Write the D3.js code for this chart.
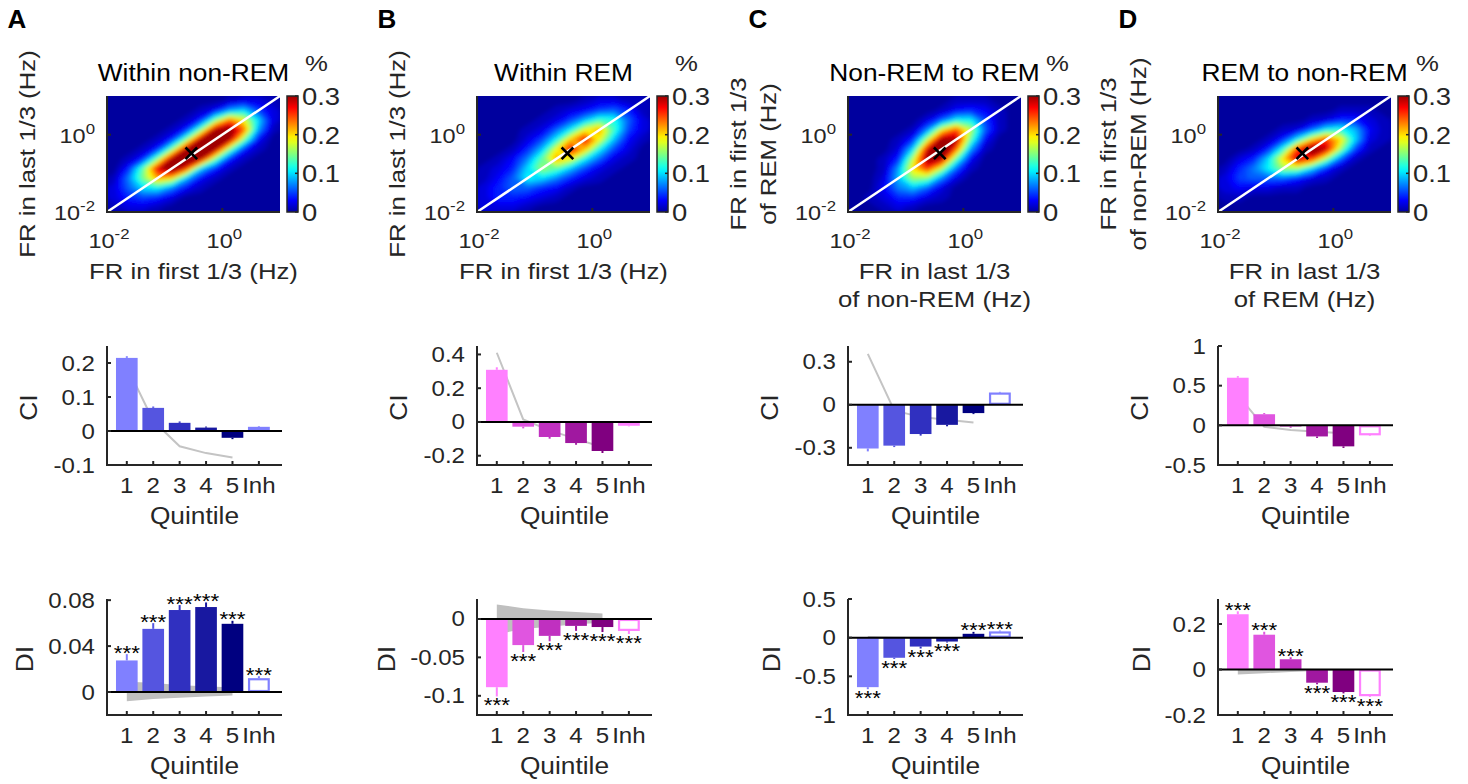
<!DOCTYPE html>
<html>
<head>
<meta charset="utf-8">
<script src="https://cdn.jsdelivr.net/npm/d3@7"></script>
<style>
  body { margin: 0; background: #fff; }
  svg { display: block; font-family: "Liberation Sans", Arial, Helvetica, sans-serif; }
</style>
</head>
<body>
<svg id="fig" width="1468" height="784"></svg>
<script>
// ---------------- data ----------------
const quintiles = ["1", "2", "3", "4", "5", "Inh"];
const panelLetters = ["A", "B", "C", "D"];
const titles = ["Within non-REM", "Within REM", "Non-REM to REM", "REM to non-REM"];
const xLabels = [["FR in first 1/3 (Hz)"], ["FR in first 1/3 (Hz)"], ["FR in last 1/3", "of non-REM (Hz)"], ["FR in last 1/3", "of REM (Hz)"]];
const yLabels = [["FR in last 1/3 (Hz)"], ["FR in last 1/3 (Hz)"], ["FR in first 1/3", "of REM (Hz)"], ["FR in first 1/3", "of non-REM (Hz)"]];
const hmTicks = [0.01, 1];
const cbTicks = [0, 0.1, 0.2, 0.3];
const medianFR = [[0.29, 0.33], [0.37, 0.33], [0.39, 0.33], [0.29, 0.33]];

// 2D histograms (% of cells), 12x12 bins of 0.25 decade, rows from top (10^1) to bottom (10^-2)
const densA = [
  [0, 0, 0, 0, 0, 0, 0, 0, 0.01, 0.02, 0.02, 0.01],
  [0, 0, 0, 0, 0, 0, 0.01, 0.03, 0.08, 0.10, 0.05, 0.02],
  [0, 0, 0, 0, 0, 0.01, 0.04, 0.15, 0.24, 0.19, 0.10, 0.02],
  [0, 0, 0, 0, 0.01, 0.04, 0.15, 0.30, 0.32, 0.24, 0.08, 0.01],
  [0, 0, 0, 0.01, 0.04, 0.15, 0.30, 0.34, 0.30, 0.15, 0.03, 0],
  [0, 0, 0.01, 0.04, 0.15, 0.30, 0.34, 0.30, 0.15, 0.04, 0.01, 0],
  [0, 0.01, 0.04, 0.15, 0.30, 0.34, 0.30, 0.15, 0.04, 0.01, 0, 0],
  [0, 0.04, 0.14, 0.28, 0.34, 0.26, 0.10, 0.04, 0.01, 0, 0, 0],
  [0.01, 0.07, 0.15, 0.22, 0.20, 0.09, 0.03, 0.01, 0, 0, 0, 0],
  [0.02, 0.06, 0.10, 0.11, 0.07, 0.03, 0.01, 0, 0, 0, 0, 0],
  [0.02, 0.04, 0.05, 0.04, 0.02, 0, 0, 0, 0, 0, 0, 0],
  [0.01, 0.02, 0.02, 0.01, 0, 0, 0, 0, 0, 0, 0, 0]
];
const densB = [
  [0, 0, 0, 0, 0, 0, 0, 0.01, 0.02, 0.02, 0.01, 0.01],
  [0, 0, 0, 0, 0, 0.01, 0.02, 0.03, 0.05, 0.06, 0.04, 0.01],
  [0, 0, 0, 0, 0.01, 0.02, 0.05, 0.09, 0.13, 0.12, 0.06, 0.02],
  [0, 0, 0, 0.01, 0.02, 0.06, 0.11, 0.19, 0.22, 0.13, 0.05, 0.02],
  [0, 0, 0, 0.02, 0.05, 0.11, 0.21, 0.27, 0.19, 0.09, 0.03, 0.01],
  [0, 0, 0.01, 0.04, 0.09, 0.19, 0.27, 0.21, 0.11, 0.05, 0.02, 0],
  [0, 0.01, 0.03, 0.07, 0.14, 0.22, 0.19, 0.11, 0.06, 0.02, 0.01, 0],
  [0.01, 0.02, 0.04, 0.10, 0.16, 0.14, 0.09, 0.05, 0.02, 0.01, 0, 0],
  [0.01, 0.03, 0.06, 0.11, 0.10, 0.07, 0.04, 0.02, 0.01, 0, 0, 0],
  [0.02, 0.04, 0.06, 0.06, 0.04, 0.03, 0.01, 0, 0, 0, 0, 0],
  [0.02, 0.04, 0.04, 0.03, 0.02, 0.01, 0, 0, 0, 0, 0, 0],
  [0.02, 0.02, 0.02, 0.01, 0, 0, 0, 0, 0, 0, 0, 0]
];
const densC = [
  [0, 0, 0, 0, 0, 0, 0, 0.01, 0.01, 0.01, 0, 0],
  [0, 0, 0, 0, 0, 0, 0.01, 0.03, 0.04, 0.03, 0.01, 0],
  [0, 0, 0, 0, 0, 0.02, 0.06, 0.11, 0.11, 0.05, 0.01, 0],
  [0, 0, 0, 0, 0.01, 0.07, 0.19, 0.25, 0.17, 0.06, 0.01, 0],
  [0, 0, 0, 0.01, 0.04, 0.17, 0.31, 0.30, 0.14, 0.03, 0, 0],
  [0, 0, 0, 0.02, 0.10, 0.28, 0.36, 0.24, 0.08, 0.01, 0, 0],
  [0, 0, 0.01, 0.04, 0.17, 0.31, 0.30, 0.14, 0.03, 0, 0, 0],
  [0, 0, 0.01, 0.08, 0.20, 0.26, 0.17, 0.06, 0.01, 0, 0, 0],
  [0, 0, 0.02, 0.09, 0.16, 0.15, 0.07, 0.02, 0, 0, 0, 0],
  [0, 0, 0.03, 0.07, 0.09, 0.06, 0.02, 0, 0, 0, 0, 0],
  [0, 0.01, 0.02, 0.04, 0.04, 0.02, 0.01, 0, 0, 0, 0, 0],
  [0, 0, 0.01, 0.02, 0.01, 0, 0, 0, 0, 0, 0, 0]
];
const densD = [
  [0, 0, 0, 0, 0, 0, 0, 0, 0, 0, 0, 0],
  [0, 0, 0, 0, 0, 0, 0, 0, 0.01, 0.01, 0.01, 0],
  [0, 0, 0, 0, 0, 0, 0.01, 0.02, 0.04, 0.04, 0.02, 0.01],
  [0, 0, 0, 0, 0.01, 0.02, 0.06, 0.11, 0.12, 0.09, 0.03, 0.01],
  [0, 0, 0, 0.01, 0.04, 0.11, 0.20, 0.26, 0.20, 0.10, 0.02, 0.01],
  [0, 0, 0.01, 0.04, 0.12, 0.26, 0.33, 0.29, 0.16, 0.05, 0.01, 0],
  [0, 0.02, 0.04, 0.10, 0.20, 0.29, 0.26, 0.16, 0.06, 0.01, 0, 0],
  [0.01, 0.04, 0.07, 0.11, 0.16, 0.16, 0.10, 0.04, 0.01, 0, 0, 0],
  [0.02, 0.05, 0.06, 0.06, 0.06, 0.04, 0.02, 0.01, 0, 0, 0, 0],
  [0.02, 0.03, 0.02, 0.02, 0.01, 0.01, 0, 0, 0, 0, 0, 0],
  [0.01, 0.01, 0, 0, 0, 0, 0, 0, 0, 0, 0, 0],
  [0, 0, 0, 0, 0, 0, 0, 0, 0, 0, 0, 0]
];

// CI (quintiles 1-5, Inh), s.e.m., shuffled CI (quintiles 1-5)
const ciA = [0.215, 0.068, 0.024, 0.010, -0.020, 0.012];
const ciAErr = [0.005, 0.004, 0.004, 0.003, 0.004, 0.002];
const ciAShuffle = [0.19, 0.03, -0.045, -0.065, -0.078];
const ciB = [0.309, -0.028, -0.089, -0.125, -0.172, -0.022];
const ciBErr = [0.015, 0.01, 0.01, 0.01, 0.012, 0.004];
const ciBShuffle = [0.41, 0.015, -0.05, -0.1, -0.15];
const ciC = [-0.305, -0.285, -0.204, -0.14, -0.058, 0.085];
const ciCErr = [0.02, 0.01, 0.011, 0.01, 0.007, 0.005];
const ciCShuffle = [0.355, -0.04, -0.086, -0.105, -0.124];
const ciD = [0.6, 0.14, -0.015, -0.14, -0.265, -0.125];
const ciDErr = [0.02, 0.015, 0.015, 0.02, 0.02, 0.008];
const ciDShuffle = [0.38, -0.02, -0.06, -0.08, -0.1];

// DI, s.e.m., shuffled band (upper / lower)
const diA = [0.0275, 0.055, 0.0714, 0.074, 0.0594, 0.012];
const diAErr = [0.0055, 0.005, 0.0043, 0.004, 0.0026, 0.0018];
const diAShufHi = [0.009, 0.008, 0.006, 0.005, 0.004];
const diAShufLo = [-0.008, -0.006, -0.005, -0.004, -0.003];
const diB = [-0.0888, -0.034, -0.022, -0.009, -0.0105, -0.0155];
const diBErr = [0.012, 0.009, 0.007, 0.0065, 0.0065, 0.004];
const diBShufHi = [0.019, 0.014, 0.011, 0.009, 0.007];
const diBShufLo = [-0.02, -0.013, -0.01, -0.007, -0.005];
const diC = [-0.64, -0.26, -0.115, -0.05, 0.05, 0.08];
const diCErr = [0.026, 0.015, 0.025, 0.012, 0.025, 0.012];
const diCShufHi = [0.02, 0.015, 0.012, 0.01, 0.008];
const diCShufLo = [-0.02, -0.015, -0.012, -0.01, -0.008];
const diD = [0.243, 0.153, 0.045, -0.058, -0.099, -0.117];
const diDErr = [0.013, 0.013, 0.009, 0.007, 0.006, 0.004];
const diDShufHi = [0.004, 0.004, 0.003, 0.002, 0.002];
const diDShufLo = [-0.022, -0.016, -0.011, -0.007, -0.004];

const ciTicks = [[-0.1, 0, 0.1, 0.2], [-0.2, 0, 0.2, 0.4], [-0.3, 0, 0.3], [-0.5, 0, 0.5, 1]];
const diTicks = [[0, 0.04, 0.08], [-0.1, -0.05, 0], [-1, -0.5, 0, 0.5], [-0.2, 0, 0.2]];
const ciDomains = [[-0.1, 0.25], [-0.255, 0.45], [-0.42, 0.41], [-0.5, 1]];
const diDomains = [[-0.02, 0.081], [-0.125, 0.026], [-1, 0.5], [-0.2, 0.31]];

// ---------------- styles / layout ----------------
const blues = ["#8080ff", "#5555e0", "#3030c0", "#1818a0", "#000080"];
const pinks = ["#ff80ff", "#e055e0", "#c030c0", "#a018a0", "#800080"];
const palettes = [blues, pinks, blues, pinks];
const hmLeft = [107, 477, 848, 1218];
const hmW = 173, hmTop = 96, hmBottom = 212;
const barW = 175;
const ciBox = [346, 465], diBox = [599, 715];
const diLabelOff = [74, 82, 68, 68];
const SX = 1.12;          // glyphs in the figure are wider than tall
const ink = "#262626";

const svg = d3.select("#fig");
const defs = svg.append("defs");
defs.append("filter").attr("id", "blur").attr("x", "-5%").attr("y", "-5%").attr("width", "110%").attr("height", "110%")
  .append("feGaussianBlur").attr("stdDeviation", 2.2);

// MATLAB-style jet colormap
function jet(t) {
  t = 0.03 + 0.94 * Math.max(0, Math.min(1, t));
  const c = v => Math.max(0, Math.min(1, v)) * 255;
  return d3.rgb(c(1.5 - Math.abs(4 * t - 3)), c(1.5 - Math.abs(4 * t - 2)), c(1.5 - Math.abs(4 * t - 1))).formatHex();
}
const cScale = d3.scaleLinear().domain([0, 0.3]).range([0, 1]).clamp(true);

function txt(g, x, y, s, o = {}) {
  const t = g.append("text")
    .attr("transform", `translate(${x},${y})${o.rotate ? ` rotate(${o.rotate})` : ""} scale(${o.sx || SX},1)`)
    .attr("text-anchor", o.anchor || "middle")
    .attr("font-size", o.size || 23.5)
    .attr("fill", o.fill || ink);
  if (o.weight) t.attr("font-weight", o.weight);
  t.text(s);
  return t;
}
function pow10(g, x, y, v, anchor) {
  const t = txt(g, x, y, "", { size: 21, anchor });
  t.append("tspan").text("10");
  t.append("tspan").attr("dy", -9).attr("font-size", 15).text(String(Math.round(Math.log10(v))));
}
const fmt = v => (v === 0 ? "0" : String(v));

// ---------------- heatmaps ----------------
const densities = [densA, densB, densC, densD];
const levels = d3.range(0.005, 0.37, 0.01);

function heatmap(p) {
  const left = hmLeft[p], right = left + hmW;
  const x = d3.scaleLog().domain([0.01, 10]).range([left, right]);
  const y = d3.scaleLog().domain([0.01, 10]).range([hmBottom, hmTop]);
  const grid = densities[p];
  const nx = grid[0].length, ny = grid.length;
  const contours = d3.contours().size([nx, ny]).thresholds(levels)(grid.flat());
  const proj = d3.geoTransform({
    point(gx, gy) {
      this.stream.point(x(Math.pow(10, -2 + gx * 3 / nx)), y(Math.pow(10, 1 - gy * 3 / ny)));
    }
  });
  const path = d3.geoPath(proj);

  defs.append("clipPath").attr("id", "hmclip" + p)
    .append("rect").attr("x", left).attr("y", hmTop).attr("width", hmW).attr("height", hmBottom - hmTop);
  const g = svg.append("g").attr("clip-path", `url(#hmclip${p})`);
  const inner = g.append("g").attr("filter", "url(#blur)");
  inner.append("rect").attr("x", left - 12).attr("y", hmTop - 12)
    .attr("width", hmW + 24).attr("height", hmBottom - hmTop + 24).attr("fill", jet(0));
  inner.selectAll("path").data(contours).join("path")
    .attr("d", path).attr("fill", d => jet(cScale(d.value + 0.005)));

  // unity line and median marker
  svg.append("line").attr("x1", x(0.01)).attr("y1", y(0.01)).attr("x2", x(10)).attr("y2", y(10))
    .attr("stroke", "#fff").attr("stroke-width", 2.5);
  const [mx, my] = medianFR[p];
  svg.append("path").attr("d", d3.symbol(d3.symbolX, 90)())
    .attr("transform", `translate(${x(mx)},${y(my)})`).attr("stroke", "#000").attr("stroke-width", 2.6).attr("fill", "none");

  // axes
  const ax = svg.append("g").attr("stroke", ink).attr("stroke-width", 2);
  ax.append("line").attr("x1", left).attr("x2", left).attr("y1", hmTop).attr("y2", hmBottom + 1);
  ax.append("line").attr("x1", left - 1).attr("x2", right).attr("y1", hmBottom).attr("y2", hmBottom);
  hmTicks.forEach(t => {
    ax.append("line").attr("x1", left).attr("x2", left + 4).attr("y1", y(t)).attr("y2", y(t));
    ax.append("line").attr("x1", x(t)).attr("x2", x(t)).attr("y1", hmBottom).attr("y2", hmBottom - 4);
    pow10(svg, x(t) + 2, 248, t, "middle");
    pow10(svg, left - 12, y(t) + 8, t, "end");
  });

  // colorbar
  const cbX = right + 7, cbW = 11;
  const cy = d3.scaleLinear().domain([0, 0.3]).range([hmBottom, hmTop]);
  const grad = defs.append("linearGradient").attr("id", "cb" + p)
    .attr("x1", 0).attr("y1", 1).attr("x2", 0).attr("y2", 0);
  d3.range(0, 1.0001, 0.05).forEach(s => grad.append("stop").attr("offset", s).attr("stop-color", jet(s)));
  svg.append("rect").attr("x", cbX).attr("y", hmTop).attr("width", cbW).attr("height", hmBottom - hmTop)
    .attr("fill", `url(#cb${p})`).attr("stroke", ink).attr("stroke-width", 1.5);
  cbTicks.forEach(t => {
    svg.append("line").attr("x1", cbX + cbW - 3).attr("x2", cbX + cbW).attr("y1", cy(t)).attr("y2", cy(t))
      .attr("stroke", ink).attr("stroke-width", 1.5);
    txt(svg, cbX + cbW + 4, cy(t) + 9, fmt(t), { size: 24.5, anchor: "start" });
  });
  txt(svg, cbX + cbW / 2 + 24, 71, "%", { size: 23 });

  // title and labels
  txt(svg, left + hmW / 2, 81, titles[p], { fill: "#000" });
  xLabels[p].forEach((s, i) => txt(svg, left + hmW / 2, 279 + i * 28, s, { size: 23 }));
  const yl = yLabels[p];
  yl.forEach((s, i) => {
    const off = yl.length === 1 ? 72 : (i === 0 ? 102 : 72);
    txt(svg, left - off, (hmTop + hmBottom) / 2, s, { size: 23, rotate: -90 });
  });
  txt(svg, left - 90, 28, panelLetters[p], { size: 26, weight: "bold", fill: "#000", sx: 1 });
}

// ---------------- bar charts ----------------
function barPanel(p, box, domain, ticks, vals, errs, opts) {
  const left = hmLeft[p], right = left + barW;
  const [top, bottom] = box;
  const pal = palettes[p];
  const x = d3.scaleLinear().domain([0.25, 6.875]).range([left, right]);
  const y = d3.scaleLinear().domain(domain).range([bottom, top]);
  const bw = x(1.82) - x(1);
  const g = svg.append("g");
  const shufX = (d, i) => x(i + 1);

  if (opts.line) {
    g.append("path").datum(opts.line)
      .attr("d", d3.line().x(shufX).y(d => y(d)))
      .attr("fill", "none").attr("stroke", "#c4c4c4").attr("stroke-width", 2);
  }
  if (opts.hi) {
    g.append("path").datum(opts.hi.map((h, i) => [h, opts.lo[i]]))
      .attr("d", d3.area().x(shufX).y0(d => y(d[1])).y1(d => y(d[0])))
      .attr("fill", "#bfbfbf");
  }

  vals.forEach((v, i) => {
    const inh = i === 5;
    const col = inh ? pal[0] : pal[i];
    const cx = x(i + 1);
    const y0 = y(0), yv = y(v);
    const r = g.append("rect")
      .attr("x", cx - bw / 2 + (inh ? 1 : 0))
      .attr("width", bw - (inh ? 2 : 0))
      .attr("y", Math.min(y0, yv) + (inh ? 1 : 0))
      .attr("height", Math.max(0, Math.abs(yv - y0) - (inh ? 2 : 0)));
    if (inh) r.attr("fill", "#fff").attr("stroke", col).attr("stroke-width", 2.2);
    else r.attr("fill", col);
    const sgn = v >= 0 ? 1 : -1;
    const ye = y(v + sgn * errs[i]);
    g.append("line").attr("x1", cx).attr("x2", cx).attr("y1", yv).attr("y2", ye)
      .attr("stroke", col).attr("stroke-width", 2);
    if (opts.stars) {
      const base = sgn > 0 ? ye + 5.5 : ye + 16;
      txt(g, cx, base, "***", { size: 20, fill: "#000" });
    }
  });

  // zero line + axes
  g.append("line").attr("x1", left).attr("x2", right).attr("y1", y(0)).attr("y2", y(0))
    .attr("stroke", "#000").attr("stroke-width", 2);
  const ax = g.append("g").attr("stroke", ink).attr("stroke-width", 2);
  ax.append("line").attr("x1", left).attr("x2", left).attr("y1", top).attr("y2", bottom + 1);
  ax.append("line").attr("x1", left - 1).attr("x2", right).attr("y1", bottom).attr("y2", bottom);
  ticks.forEach(t => {
    ax.append("line").attr("x1", left).attr("x2", left + 4).attr("y1", y(t)).attr("y2", y(t));
    txt(g, left - 12, y(t) + 7.5, fmt(t), { size: 21.5, anchor: "end" });
  });
  quintiles.forEach((q, i) => {
    ax.append("line").attr("x1", x(i + 1)).attr("x2", x(i + 1)).attr("y1", bottom).attr("y2", bottom - 4);
    txt(g, x(i + 1), bottom + 28, q, { size: 21.5 });
  });
  txt(g, (left + right) / 2, bottom + 59, "Quintile");
  txt(g, left - opts.labelOff, (top + bottom) / 2 + 2, opts.label, { rotate: -90 });
}

for (let p = 0; p < 4; p++) heatmap(p);

const ciVals = [ciA, ciB, ciC, ciD], ciErrs = [ciAErr, ciBErr, ciCErr, ciDErr];
const ciShuf = [ciAShuffle, ciBShuffle, ciCShuffle, ciDShuffle];
const diVals = [diA, diB, diC, diD], diErrs = [diAErr, diBErr, diCErr, diDErr];
const diHi = [diAShufHi, diBShufHi, diCShufHi, diDShufHi], diLo = [diAShufLo, diBShufLo, diCShufLo, diDShufLo];

for (let p = 0; p < 4; p++) {
  barPanel(p, ciBox, ciDomains[p], ciTicks[p], ciVals[p], ciErrs[p],
    { line: ciShuf[p], label: "CI", labelOff: 70 });
  barPanel(p, diBox, diDomains[p], diTicks[p], diVals[p], diErrs[p],
    { hi: diHi[p], lo: diLo[p], stars: true, label: "DI", labelOff: diLabelOff[p] });
}
</script>
</body>
</html>
